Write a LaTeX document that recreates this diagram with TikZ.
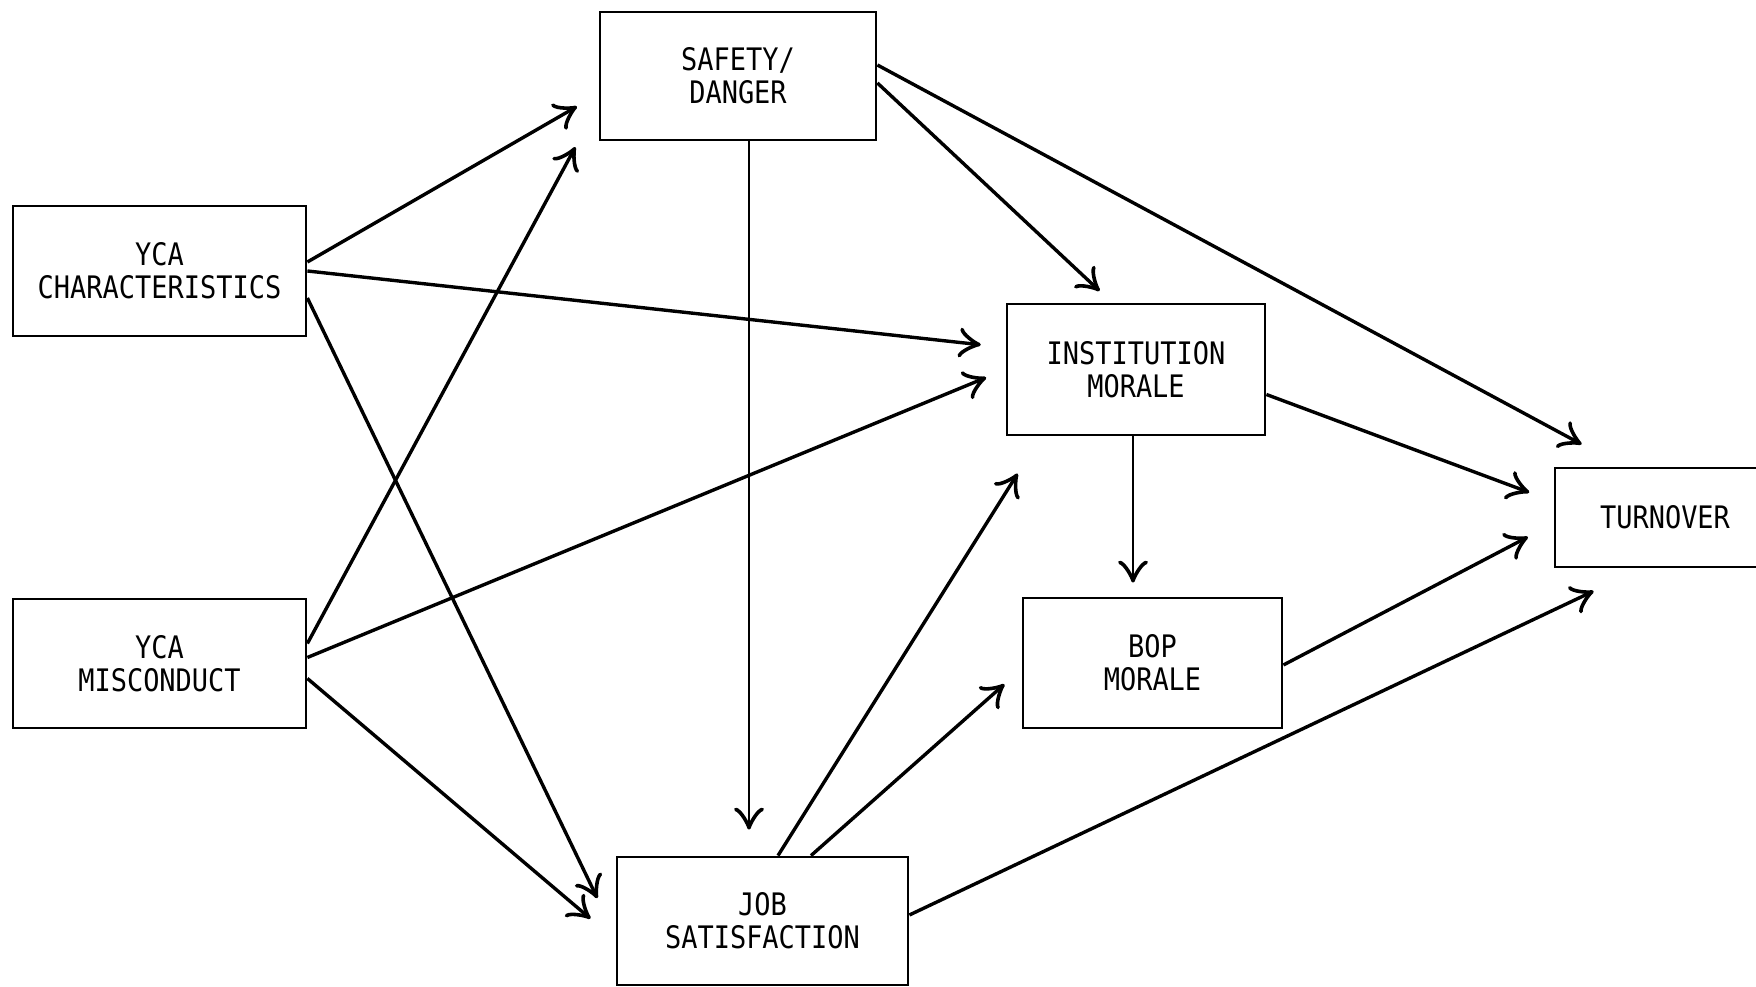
\documentclass[tikz,border=0pt]{standalone}
\usepackage{fontspec}
\newfontfamily\boxfont[FakeStretch=0.87]{DejaVu Sans Mono}
\usetikzlibrary{arrows.meta}

\begin{document}
\begin{tikzpicture}[x=1pt, y=1pt,
  box/.style={draw, line width=2.8pt, inner sep=0pt, align=center,
    font=\boxfont\fontsize{31}{33}\selectfont},
  arr/.style={line width=3.4pt, -{Classical TikZ Rightarrow[length=22pt,width=30pt,line width=3.6pt]}}]
\useasboundingbox (0,0) rectangle (1756,987);
\clip (0,0) rectangle (1756,987);
\node[box, minimum width=276pt, minimum height=128pt] (safety) at (738,911) {SAFETY/\\DANGER};
\node[box, minimum width=293pt, minimum height=130pt] (ycachar) at (159.5,716) {YCA\\CHARACTERISTICS};
\node[box, minimum width=293pt, minimum height=129pt] (ycamisc) at (159.5,323.5) {YCA\\MISCONDUCT};
\node[box, minimum width=258pt, minimum height=131pt] (instmor) at (1136,617.5) {INSTITUTION\\MORALE};
\node[box, minimum width=259pt, minimum height=130pt] (bopmor) at (1152.5,324) {BOP\\MORALE};
\node[box, minimum width=220pt, minimum height=99pt] (turnover) at (1665,469.5) {TURNOVER};
\node[box, minimum width=291pt, minimum height=128pt] (jobsat) at (762.5,66) {JOB\\SATISFACTION};
\draw[arr, shorten >=25pt] ([yshift=9pt]ycachar.east) -- ([yshift=-18pt]safety.west);
\draw[arr, shorten >=25pt] (ycachar.east) -- ([yshift=22pt]instmor.west);
\draw[arr, shorten >=42pt] ([yshift=-27pt]ycachar.east) -- ([yshift=-15pt]jobsat.west);
\draw[arr, shorten >=49pt] ([yshift=20pt]ycamisc.east) -- ([yshift=-28pt]safety.west);
\draw[arr, shorten >=21pt] ([yshift=6pt]ycamisc.east) -- (instmor.west);
\draw[arr, shorten >=33pt] ([yshift=-15pt]ycamisc.east) -- ([yshift=-19pt]jobsat.west);
\draw[arr, line width=2.8pt, shorten >=26pt] ([xshift=11pt]safety.south) -- ([xshift=-13.5pt]jobsat.north);
\draw[arr, shorten >=17pt] ([yshift=-7pt]safety.east) -- ([xshift=-24pt]instmor.north);
\draw[arr, shorten >=47pt] ([yshift=11pt]safety.east) -- ([xshift=-42pt]turnover.north);
\draw[arr, shorten >=26pt] ([yshift=-25pt]instmor.east) -- ([yshift=16pt]turnover.west);
\draw[arr, line width=2.8pt, shorten >=14pt] ([xshift=-3pt]instmor.south) -- ([xshift=-19.5pt]bopmor.north);
\draw[arr, shorten >=29pt] ([yshift=-2pt]bopmor.east) -- ([yshift=-6pt]turnover.west);
\draw[arr, shorten >=44pt] ([xshift=15.5pt]jobsat.north) -- ([xshift=-95pt]instmor.south);
\draw[arr, shorten >=23pt] ([xshift=48.5pt]jobsat.north) -- ([yshift=-6pt]bopmor.west);
\draw[arr, shorten >=53pt] ([yshift=6pt]jobsat.east) -- ([xshift=-23.5pt]turnover.south);
\end{tikzpicture}
\end{document}
